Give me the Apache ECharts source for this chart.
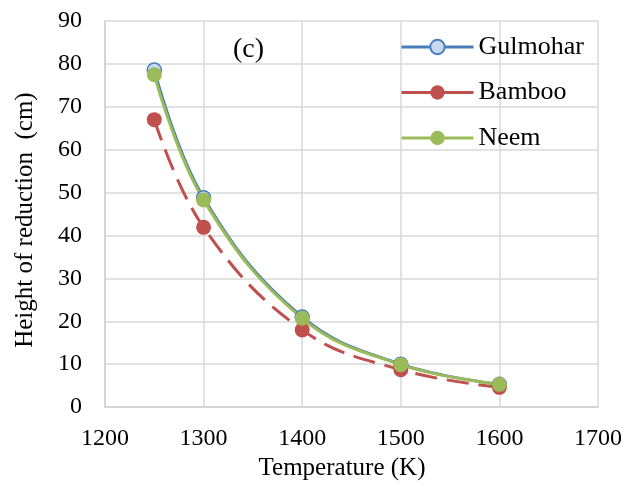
<!DOCTYPE html>
<html>
<head>
<meta charset="utf-8">
<script src="https://cdn.jsdelivr.net/npm/echarts@6/dist/echarts.min.js"></script>
<style>html,body{margin:0;padding:0;background:#fff}#c{width:627px;height:486px}</style>
</head>
<body>
<div id="c"></div>
<script>
const temperatures = [1250, 1300, 1400, 1500, 1600];
const gulmohar = [78.6, 48.8, 21.0, 10.0, 5.3];
const bamboo = [67.0, 41.9, 18.0, 8.7, 4.6];
const neem = [77.5, 48.3, 20.7, 9.9, 5.3];
const seriesNames = ['Gulmohar', 'Bamboo', 'Neem'];

const font = "'Liberation Serif', 'Times New Roman', serif";
const pairs = arr => temperatures.map((t, i) => [t, arr[i]]);

const chart = echarts.init(document.getElementById('c'), null, {renderer: 'canvas'});
chart.setOption({
  animation: false,
  backgroundColor: '#fff',
  grid: {left: 105, right: 29, top: 21, bottom: 75, containLabel: false},
  xAxis: {
    type: 'value', min: 1200, max: 1700, interval: 100,
    name: 'Temperature (K)', nameLocation: 'middle', nameGap: 42,
    nameTextStyle: {fontFamily: font, fontSize: 25, color: '#000', padding: [0, 19, 0, 0]},
    axisLine: {show: true, lineStyle: {color: '#d0d0d0', width: 1.5}},
    axisTick: {show: false},
    axisLabel: {fontFamily: font, fontSize: 24, color: '#000', margin: 20, formatter: v => String(v)},
    splitLine: {show: true, lineStyle: {color: '#d9d9d9', width: 1.5}}
  },
  yAxis: {
    type: 'value', min: 0, max: 90, interval: 10,
    name: 'Height of reduction  (cm)', nameLocation: 'middle', nameGap: 67,
    nameTextStyle: {fontFamily: font, fontSize: 25, color: '#000', padding: [0, 12, 0, 0]},
    axisLine: {show: true, lineStyle: {color: '#d0d0d0', width: 1.5}},
    axisTick: {show: false},
    axisLabel: {fontFamily: font, fontSize: 24, color: '#000', margin: 23, formatter: v => String(v)},
    splitLine: {show: true, lineStyle: {color: '#d9d9d9', width: 1.5}}
  },
  legend: {
    left: 400, top: 34, orient: 'vertical', padding: 0,
    itemWidth: 72, itemHeight: 18, itemGap: 19.5,
    lineStyle: {width: 3},
    textStyle: {fontFamily: font, fontSize: 26, color: '#000', lineHeight: 24},
    data: [
      {name: seriesNames[0]},
      {name: seriesNames[1], lineStyle: {type: [30, 12]}},
      {name: seriesNames[2]}
    ]
  },
  graphic: [{
    type: 'text', left: 233, top: 36,
    style: {text: '(c)', font: '28px ' + font, fill: '#000'}
  }],
  series: [
    {
      name: seriesNames[0], type: 'line', smooth: 0.4, data: pairs(gulmohar),
      symbol: 'circle', symbolSize: 14,
      lineStyle: {color: '#4a7ebb', width: 3},
      itemStyle: {color: '#c6d9f1', borderColor: '#4a7ebb', borderWidth: 1.5}
    },
    {
      name: seriesNames[1], type: 'line', smooth: 0.4, data: pairs(bamboo),
      symbol: 'circle', symbolSize: 15,
      lineStyle: {color: '#c0504d', width: 3, type: [22, 10]},
      itemStyle: {color: '#c0504d'}
    },
    {
      name: seriesNames[2], type: 'line', smooth: 0.4, data: pairs(neem),
      symbol: 'circle', symbolSize: 15,
      lineStyle: {color: '#9bbb59', width: 3},
      itemStyle: {color: '#9bbb59'}
    }
  ]
});
</script>
</body>
</html>
